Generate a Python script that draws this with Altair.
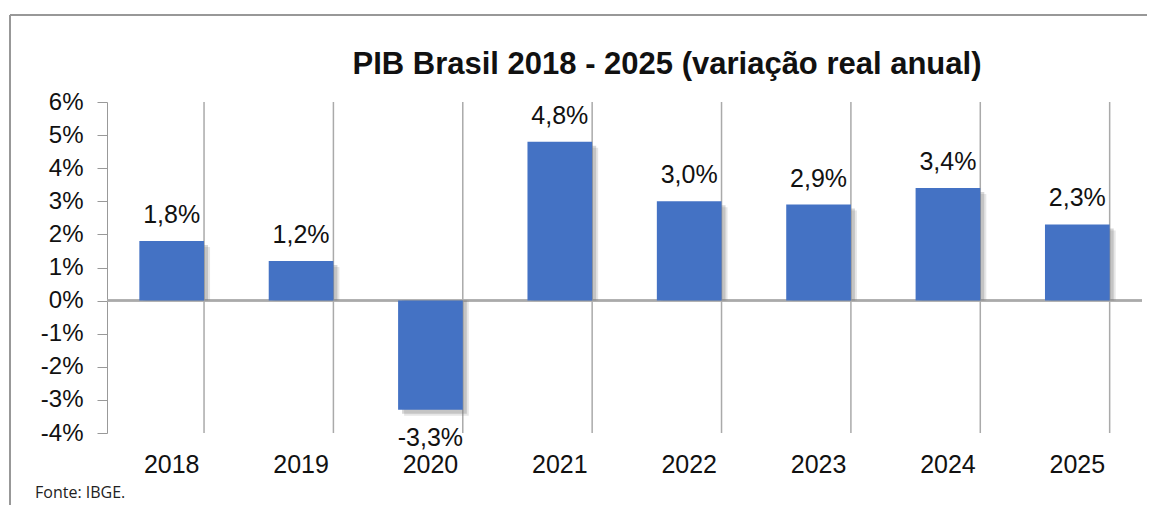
import altair as alt
import pandas as pd

years = ["2018", "2019", "2020", "2021", "2022", "2023", "2024", "2025"]
growth = [1.8, 1.2, -3.3, 4.8, 3.0, 2.9, 3.4, 2.3]
y_ticks = [-4, -3, -2, -1, 0, 1, 2, 3, 4, 5, 6]
title_text = "PIB Brasil 2018 - 2025 (variação real anual)"
source_text = "Fonte: IBGE."

labels = [f"{v:.1f}%".replace(".", ",") for v in growth]
df = pd.DataFrame({"year": years, "value": growth, "label": labels})

W, H = 1035, 331
FONT = "Liberation Sans"

xaxis = alt.Axis(title=None, domain=False, ticks=False, labelAngle=0,
                 labelFontSize=25, labelFont=FONT, labelColor="#111",
                 labelPadding=19, grid=False)
xscale = alt.Scale(paddingInner=0.5, paddingOuter=0.25)
xenc = alt.X("year:N", sort=years, scale=xscale, axis=xaxis)

yscale = alt.Scale(domain=[-4, 6], nice=False, zero=False)
yaxis = alt.Axis(title=None, values=y_ticks, labelExpr="datum.value + '%'",
                 labelFontSize=24, labelFont=FONT, labelColor="#111",
                 labelOverlap=False, tickCount=11,
                 domainColor="#999", tickColor="#999", tickSize=10,
                 labelPadding=14, grid=False)
yenc = alt.Y("value:Q", scale=yscale, axis=yaxis)

base = alt.Chart(df)

grid = base.mark_rule(color="#aaa", strokeWidth=1.5).encode(
    x=alt.X("year:N", sort=years, scale=xscale, axis=xaxis, bandPosition=1),
    y=alt.value(0), y2=alt.value(H))

zero = base.mark_rule(color="#aaa", strokeWidth=1.5).encode(
    y=alt.Y(datum=0, type="quantitative", scale=yscale, axis=yaxis),
    x=alt.value(0), x2=alt.value(W))

shadow1 = base.mark_bar(color="#777", opacity=0.18, xOffset=6, yOffset=6).encode(
    x=xenc, y=yenc, y2=alt.datum(0))
shadow2 = base.mark_bar(color="#777", opacity=0.3, xOffset=4, yOffset=4).encode(
    x=xenc, y=yenc, y2=alt.datum(0))

bars = base.mark_bar(color="#4472C4").encode(x=xenc, y=yenc, y2=alt.datum(0))

pos_text = base.transform_filter("datum.value >= 0").mark_text(
    baseline="bottom", dy=-13, fontSize=25, font=FONT, color="#111").encode(
    x=xenc, y=yenc, text="label:N")
neg_text = base.transform_filter("datum.value < 0").mark_text(
    baseline="top", dy=16, fontSize=25, font=FONT, color="#111").encode(
    x=xenc, y=yenc, text="label:N")

border_top = base.mark_rule(color="#999", strokeWidth=1.5).encode(
    x=alt.value(-97), x2=alt.value(W + 20), y=alt.value(-87))
border_left = base.mark_rule(color="#999", strokeWidth=1.5).encode(
    x=alt.value(-97), y=alt.value(-87), y2=alt.value(H + 80))

title = alt.Chart(pd.DataFrame({"t": [title_text]})).mark_text(
    align="center", baseline="alphabetic", fontSize=31, font=FONT,
    fontWeight="bold", color="#111").encode(
    x=alt.value(667 - 107), y=alt.value(74 - 102), text="t:N")

source = alt.Chart(pd.DataFrame({"t": [source_text]})).mark_text(
    align="left", baseline="middle", fontSize=16, font="Open Sans", color="#222").encode(
    x=alt.value(-72), y=alt.value(391), text="t:N")

chart = alt.layer(grid, zero, shadow1, shadow2, bars, pos_text, neg_text,
                  border_top, border_left, title, source).properties(
    width=W, height=H,
    autosize=alt.AutoSizeParams(type="none"),
    padding={"left": 99, "top": 94, "right": 5, "bottom": 72},
).configure_view(stroke=None)

chart.save("out.html", embed_options={"renderer": "svg", "actions": False})
